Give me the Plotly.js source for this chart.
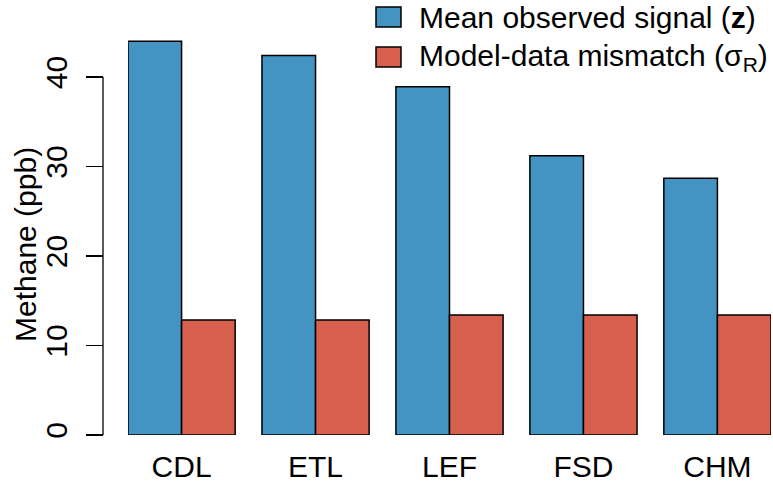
<!DOCTYPE html>
<html>
<head>
<meta charset="utf-8">
<script src="https://cdn.plot.ly/plotly-3.0.1.min.js"></script>
<style>html,body{margin:0;padding:0;background:#fff}#chart{width:773px;height:489px}</style>
</head>
<body>
<div id="chart"></div>
<script>
// ---- data ----
const sites = ['CDL', 'ETL', 'LEF', 'FSD', 'CHM'];
const meanSignal = [44.0, 42.4, 38.9, 31.2, 28.7];
const mismatch = [12.85, 12.85, 13.4, 13.4, 13.4];
const seriesNames = ['Mean observed signal (<b>z</b>)', 'Model-data mismatch (σ<sub>R</sub>)'];
const yTicks = [0, 10, 20, 30, 40];
const yTitle = 'Methane (ppb)';

// ---- layout geometry ----
const W = 773, H = 489;
const mL = 103, mR = 2, mT = 0, mB = 54;
const plotW = W - mL - mR, plotH = H - mT - mB;
const px2x = p => (p - mL) / plotW;
const px2y = p => (H - mB - p) / plotH;

const colors = ['#4393C3', '#D6604D'];
const FONT = 'Liberation Sans, Arial, Helvetica, sans-serif';
const FS = 30;

const traces = [meanSignal, mismatch].map((vals, i) => ({
  type: 'bar',
  x: sites,
  y: vals,
  name: seriesNames[i],
  marker: {color: colors[i], line: {color: '#000', width: 1.5}},
  showlegend: false,
  hoverinfo: 'x+y'
}));

const legendRows = [17, 57];
const shapes = [
  {type: 'line', xref: 'paper', yref: 'y', x0: 0, x1: 0, y0: yTicks[0], y1: yTicks[yTicks.length - 1],
   line: {color: '#000', width: 1.3}}
];
const annotations = [
  {text: yTitle, xref: 'paper', yref: 'paper', x: px2x(25), y: px2y(245), xanchor: 'center', yanchor: 'middle',
   textangle: -90, showarrow: false, font: {family: FONT, size: FS, color: '#000'}}
];
seriesNames.forEach((name, i) => {
  const cy = legendRows[i];
  shapes.push({type: 'rect', xref: 'paper', yref: 'paper',
    x0: px2x(376), x1: px2x(401), y0: px2y(cy - 10), y1: px2y(cy + 10),
    fillcolor: colors[i], line: {color: '#000', width: 1.5}});
  annotations.push({text: name, xref: 'paper', yref: 'paper', x: px2x(417), y: px2y(cy + 1),
    xanchor: 'left', yanchor: 'middle', showarrow: false,
    font: {family: FONT, size: FS, color: '#000'}});
});

const layout = {
  width: W, height: H,
  margin: {l: mL, r: mR, t: mT, b: mB, pad: 0},
  paper_bgcolor: '#fff', plot_bgcolor: '#fff',
  font: {family: FONT, size: FS, color: '#000'},
  barmode: 'group', bargap: 0.2, bargroupgap: 0,
  xaxis: {
    domain: [px2x(128), 1],
    range: [-0.4, 4.4],
    type: 'category',
    showline: false, showgrid: false, zeroline: false,
    ticks: '', ticklabelstandoff: 11,
    tickfont: {family: FONT, size: FS, color: '#000'}
  },
  yaxis: {
    anchor: 'free', position: 0,
    range: [0, 435 / 8.95],
    tickvals: yTicks,
    ticktext: yTicks.map(String),
    tickangle: -90,
    ticks: 'outside', ticklen: 17, tickwidth: 1.3, tickcolor: '#000',
    ticklabelstandoff: 7,
    showline: false, showgrid: false, zeroline: false,
    tickfont: {family: FONT, size: FS, color: '#000'}
  },
  shapes: shapes,
  annotations: annotations
};

Plotly.newPlot('chart', traces, layout, {staticPlot: true, displayModeBar: false});
</script>
</body>
</html>
